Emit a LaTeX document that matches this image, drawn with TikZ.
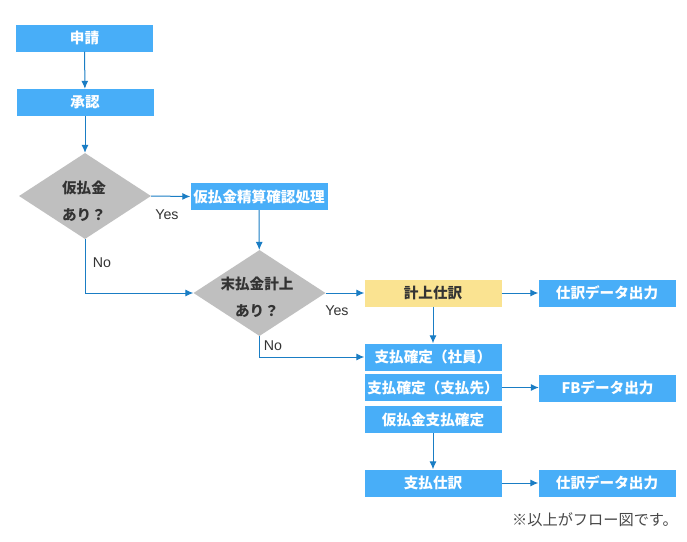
\documentclass[tikz,border=0pt]{standalone}
\usepackage{fontspec}
\setmainfont{Liberation Sans}
\newfontfamily\jp{Noto Sans CJK JP}
\usetikzlibrary{shapes.geometric,arrows.meta}
\definecolor{bx}{HTML}{48AEF8}
\definecolor{ln}{HTML}{1A7DC4}
\definecolor{gy}{HTML}{BFBFBF}
\definecolor{yl}{HTML}{FAE391}
\definecolor{tx}{HTML}{333333}
\begin{document}
\begin{tikzpicture}[x=1pt,y=-1pt,
  box/.style={fill=bx, text=white, minimum width=137pt, minimum height=27pt, inner sep=0pt, font=\jp\bfseries\fontsize{14.6}{16}\selectfont},
  ybox/.style={box, fill=yl, text=tx},
  dia/.style={diamond, fill=gy, minimum width=132pt, minimum height=86pt, inner sep=0pt},
  dtext/.style={text=tx, align=center, inner sep=0pt, font=\jp\bfseries\fontsize{14.6}{27}\selectfont},
  arr/.style={draw=ln, line width=1pt, -{Latex[length=8pt,width=7pt]}},
  lab/.style={text=tx, inner sep=0pt, font=\fontsize{14.2}{16}\selectfont}
]
\useasboundingbox[fill=white] (0,0) rectangle (687,541);

\node[box] (a1) at (84.5,38) {申請};
\node[box] (a2) at (85,102.5) {承認};
\node[dia] (d1) at (85,196) {};
\node[dtext] (d1t) at (84,201.5) {仮払金\\あり？};
\node[box] (p1) at (259,196.5) {仮払金精算確認処理};
\node[dia] (d2) at (259.5,293) {};
\node[dtext] (d2t) at (257,297) {末払金計上\\あり？};
\node[ybox] (k1) at (433,293) {計上仕訳};
\node[box] (o1) at (607,293) {仕訳データ出力};
\node[box] (s1) at (433,357) {支払確定（社員）};
\node[box] (s2) at (433,387.5) {支払確定（支払先）};
\node[box] (o2) at (607.5,388) {FBデータ出力};
\node[box] (s3) at (433,419.5) {仮払金支払確定};
\node[box] (s4) at (433,483) {支払仕訳};
\node[box] (o3) at (607,483) {仕訳データ出力};

\node[lab] (y1) at (167,215) {Yes};
\node[lab] (n1) at (102,263) {No};
\node[lab] (y2) at (337,311) {Yes};
\node[lab] (n2) at (273,346) {No};

\node[text=tx!90!white, inner sep=0pt, font=\jp\fontsize{15.2}{17}\selectfont] (note) at (595,520) {※以上がフロー図です。};

\draw[arr] (a1) -- (a2);
\draw[arr] (a2) -- (d1);
\draw[arr] (d1.east) -- (p1.west);
\draw[arr] (p1) -- (d2);
\draw[arr] (d1.south) |- (d2.west);
\draw[arr] (d2.east) -- (k1.west);
\draw[arr] (k1) -- (o1);
\draw[arr] (k1) -- (s1);
\draw[arr] (d2.south) |- (s1.west);
\draw[arr] (s2.east) -- (o2.west |- s2.east);
\draw[arr] (s3) -- (s4);
\draw[arr] (s4) -- (o3);
\end{tikzpicture}
\end{document}
